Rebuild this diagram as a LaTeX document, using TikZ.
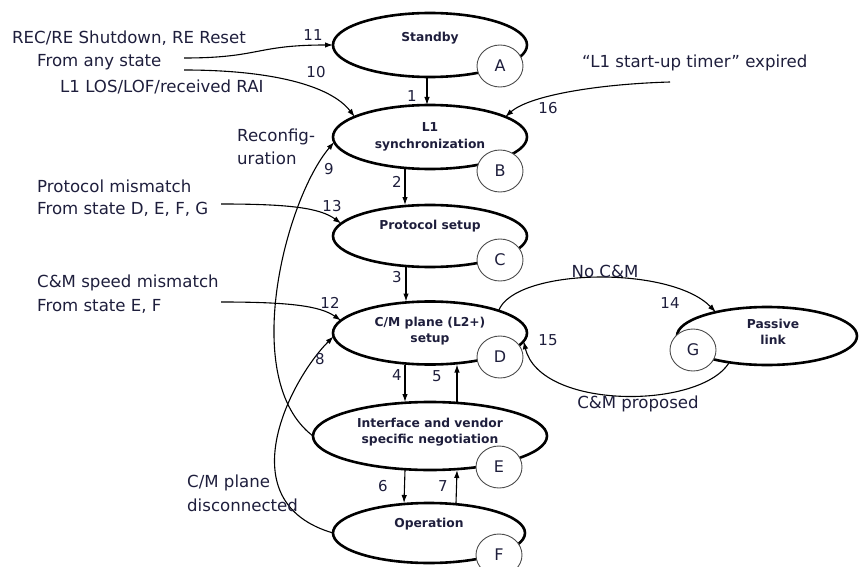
\documentclass[tikz,border=0pt]{standalone}
\usepackage{fontspec}
\setmainfont{DejaVu Sans}
\usetikzlibrary{shapes.geometric,arrows.meta}
\definecolor{txt}{RGB}{30,30,60}
\begin{document}
\begin{tikzpicture}[x=1pt,y=-1pt,
 state/.style={ellipse,draw=black,line width=2.6pt,inner sep=0pt,outer sep=0pt},
 lettr/.style={ellipse,draw=black!70,line width=0.9pt,fill=white,minimum width=46pt,minimum height=42pt,inner sep=0pt,outer sep=0pt,font=\fontsize{16}{16}\selectfont,text=txt},
 slabel/.style={align=center,font=\fontsize{12.3}{16.5}\selectfont\bfseries,text=txt,inner sep=0pt},
 txtl/.style={anchor=west,inner sep=0pt,font=\fontsize{16.6}{19}\selectfont,text=txt},
 txtc/.style={inner sep=0pt,font=\fontsize{16.6}{19}\selectfont,text=txt},
 num/.style={inner sep=0pt,font=\fontsize{15}{15}\selectfont,text=txt},
 arr/.style={line width=1.1pt,-{Latex[length=8pt,width=5.5pt]}},
]
\useasboundingbox (0,0) rectangle (859,567);
\clip (0,0) rectangle (859,567);

% states
\node[state,minimum width=194pt,minimum height=64pt] (A) at (430,45) {};
\node[state,minimum width=194pt,minimum height=64pt] (B) at (430,137) {};
\node[state,minimum width=194pt,minimum height=62pt] (C) at (430,236) {};
\node[state,minimum width=194pt,minimum height=63pt] (D) at (430,333) {};
\node[state,minimum width=234pt,minimum height=68pt] (E) at (430,436) {};
\node[state,minimum width=192pt,minimum height=60pt] (F) at (429,533) {};
\node[state,minimum width=180pt,minimum height=58pt] (G) at (767,336) {};

% state labels
\node[slabel] (Al) at (430,38) {Standby};
\node[slabel] (Bl) at (430,137) {L1\\synchronization};
\node[slabel] (Cl) at (430,226) {Protocol setup};
\node[slabel] (Dl) at (430,331) {C/M plane (L2+)\\setup};
\node[slabel] (El) at (430,432) {Interface and vendor\\specific negotiation};
\node[slabel] (Fl) at (429,524) {Operation};
\node[slabel] (Gl) at (773,332) {Passive\\link};

% letter circles
\node[lettr] (a) at (500,66) {A};
\node[lettr] (b) at (500,171) {B};
\node[lettr] (c) at (500,260) {C};
\node[lettr] (d) at (500,357) {D};
\node[lettr] (e) at (499,467) {E};
\node[lettr] (f) at (499,555) {F};
\node[lettr] (g) at (693,350) {G};

% free ends
\coordinate (s11) at (184,58);
\coordinate (s10) at (184,70);
\coordinate (s16) at (670,82);
\coordinate (s13) at (221,204);
\coordinate (s12) at (221,302);

% vertical transitions
\draw[arr] ([xshift=-3pt]A.south) -- ([xshift=-3pt]B.north);
\draw[arr] ([xshift=-25pt]B.south) -- ([xshift=-25pt]C.north);
\draw[arr] ([xshift=-24pt]C.south) -- ([xshift=-24pt]D.north);
\draw[arr] ([xshift=-25pt]D.south) -- ([xshift=-25pt]E.north);
\draw[arr] ([xshift=27pt]E.north) -- ([xshift=27pt]D.south);
\draw[arr] ([xshift=-25pt]E.south) -- ([xshift=-25pt]F.north);
\draw[arr] ([xshift=27pt]F.north) -- ([xshift=27pt]E.south);

% curved transitions
\draw[arr] (s11) .. controls (260,58) and (255,45) .. (A.west);
\draw[arr] (s10) .. controls (270,70) and (330,85) .. (B.165);
\draw[arr] (s16) .. controls (600,84) and (530,95) .. (B.15);
\draw[arr] (E.180) .. controls (239,380) and (285,200) .. (B.183);
\draw[arr] (F.180) .. controls (227,502) and (290,380) .. (D.182);
\draw[arr] (s13) .. controls (290,204) and (320,208) .. (C.172);
\draw[arr] (s12) .. controls (290,302) and (320,306) .. (D.172);
\draw[arr] (D.18) .. controls (515,268) and (670,265) .. (G.155);
\draw[arr] (G.215) .. controls (700,410) and (540,410) .. (D.355);

% numbers
\node[num] (n1) at (412,96) {1};
\node[num] (n2) at (397,182) {2};
\node[num] (n3) at (397,277) {3};
\node[num] (n4) at (397,375) {4};
\node[num] (n5) at (437,376) {5};
\node[num] (n6) at (383,486) {6};
\node[num] (n7) at (443,486) {7};
\node[num] (n8) at (320,359) {8};
\node[num] (n9) at (329,169) {9};
\node[num] (n10) at (316,72) {10};
\node[num] (n11) at (313,35) {11};
\node[num] (n12) at (330,303) {12};
\node[num] (n13) at (332,206) {13};
\node[num] (n14) at (670,303) {14};
\node[num] (n15) at (548,340) {15};
\node[num] (n16) at (548,108) {16};

% texts
\node[txtl] (t1) at (12,38) {REC/RE Shutdown, RE Reset};
\node[txtl] (t2) at (37,62) {From any state};
\node[txtl] (t3) at (60,87) {L1 LOS/LOF/received RAI};
\node[txtl] (t4) at (237,137) {Reconfig-};
\node[txtl] (t5) at (237,158) {uration};
\node[txtl] (t6) at (37,186) {Protocol mismatch};
\node[txtl] (t7) at (37,209) {From state D, E, F, G};
\node[txtl] (t8) at (37,283) {C\&M speed mismatch};
\node[txtl] (t9) at (37,306) {From state E, F};
\node[txtl] (t10) at (187,483) {C/M plane};
\node[txtl] (t11) at (187,505) {disconnected};
\node[txtl] (t12) at (582,63) {“L1 start-up timer” expired};
\node[txtc] (t13) at (605,271) {No C\&M};
\node[txtc] (t14) at (638,404) {C\&M proposed};
\end{tikzpicture}
\end{document}
